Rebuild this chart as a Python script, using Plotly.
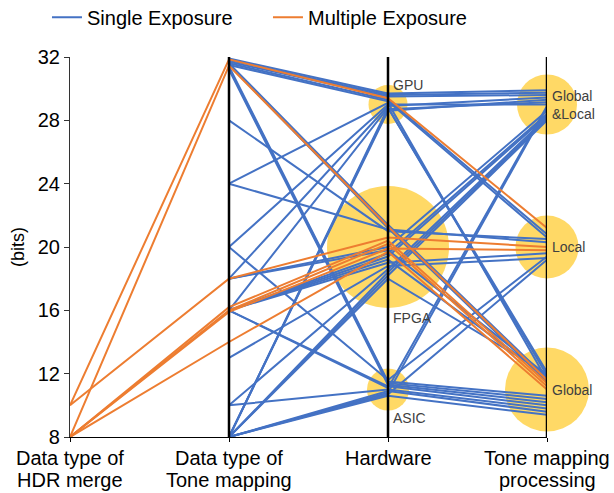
import plotly.graph_objects as go

# ---------------- data ----------------
axis_labels = ["Data type of<br>HDR merge", "Data type of<br>Tone mapping",
               "Hardware", "Tone mapping<br>processing"]
y_ticks = [8, 12, 16, 20, 24, 28, 32]

# hardware / processing categories (vertical position in bits-scale)
hw_names = ["GPU", "FPGA", "ASIC"]
hw_levels = [29, 20, 11]
proc_names = ["Global<br>&Local", "Local", "Global"]
proc_levels = [29, 20, 11]

# single exposure designs: tone-mapping data type, hardware pos, processing pos
single_tm = [31.9, 31.8, 31.7, 31.6, 31.5, 24.0, 18.0, 16.0, 8.0, 8.0, 8.0, 20.0,
             31.6, 31.5, 28.0, 24.0, 18.0, 18.0, 16.0, 16.0, 16.0, 16.0, 13.0, 10.0, 8.0, 8.0, 8.0,
             31.4, 31.3, 31.2, 20.0, 16.0, 16.0, 10.0, 8.0, 8.0, 8.0, 8.0]
single_hw = [29.7, 29.6, 29.5, 29.3, 29.2, 29.1, 28.9, 28.8, 28.6, 28.7, 28.8, 29.0,
             21.4, 21.2, 21.0, 21.1, 20.0, 19.8, 19.6, 19.4, 19.2, 19.0, 18.8, 18.6, 18.4, 18.2, 18.0,
             11.5, 11.4, 11.3, 11.6, 11.2, 11.1, 11.0, 10.9, 10.8, 10.7, 10.6]
single_proc = [29.9, 29.75, 29.6, 20.8, 20.6, 11.6, 29.45, 11.9, 29.3, 29.15, 12.1, 29.0,
               11.7, 11.5, 20.5, 20.3, 28.6, 11.9, 28.4, 28.3, 11.8, 19.6, 19.3, 28.2, 28.1, 28.0, 12.0,
               10.6, 10.4, 10.2, 19.4, 10.0, 28.9, 9.8, 9.6, 28.8, 19.2, 9.4]

# multiple exposure designs: HDR-merge data type, tone-mapping data type, hardware, processing
multi_hdr = [10, 8, 10, 8, 8, 8, 8]
multi_tm = [31.85, 31.45, 18.0, 16.2, 16.0, 15.9, 14.0]
multi_hw = [29.4, 21.3, 20.6, 20.4, 20.2, 19.9, 19.7]
multi_proc = [21.2, 11.6, 20.0, 11.4, 11.2, 19.8, 11.0]

# ---------------- styling ----------------
BLUE = "#4472C4"
ORANGE = "#ED7D31"
YELLOW = "#FFD966"
FONT = "Liberation Sans, Arial, sans-serif"

hw_sizes = [39, 122, 42]
proc_sizes = [60, 63, 84]

fig = go.Figure()

# bubbles
fig.add_trace(go.Scatter(x=[2] * len(hw_levels), y=hw_levels, mode="markers",
                         marker=dict(size=hw_sizes, color=YELLOW, opacity=1, line=dict(width=0)),
                         cliponaxis=False, showlegend=False, hoverinfo="skip"))
fig.add_trace(go.Scatter(x=[3] * len(proc_levels), y=proc_levels, mode="markers",
                         marker=dict(size=proc_sizes, color=YELLOW, opacity=1, line=dict(width=0)),
                         cliponaxis=False, showlegend=False, hoverinfo="skip"))

# single exposure lines
bx, by = [], []
for tm, hw, pr in zip(single_tm, single_hw, single_proc):
    bx += [1, 2, 3, None]
    by += [tm, hw, pr, None]
fig.add_trace(go.Scatter(x=bx, y=by, mode="lines", name="Single Exposure",
                         line=dict(color=BLUE, width=2), connectgaps=False))

# multiple exposure lines
ox, oy = [], []
for hd, tm, hw, pr in zip(multi_hdr, multi_tm, multi_hw, multi_proc):
    ox += [0, 1, 2, 3, None]
    oy += [hd, tm, hw, pr, None]
fig.add_trace(go.Scatter(x=ox, y=oy, mode="lines", name="Multiple Exposure",
                         line=dict(color=ORANGE, width=2), connectgaps=False))

# vertical axis lines
for xv in [1, 2, 3]:
    fig.add_shape(type="line", x0=xv, x1=xv, y0=8, y1=32, xref="x", yref="y",
                  line=dict(color="black", width=2.5), layer="above")

# category labels on bubbles
lab_color = "#404040"
fig.add_annotation(x=2, y=hw_levels[0], text=hw_names[0], xanchor="left", yanchor="middle",
                   xshift=3, yshift=20, showarrow=False, font=dict(size=14, color=lab_color, family=FONT))
fig.add_annotation(x=2, y=hw_levels[1], text=hw_names[1], xanchor="left", yanchor="middle",
                   xshift=3, yshift=-71, showarrow=False, font=dict(size=14, color=lab_color, family=FONT))
fig.add_annotation(x=2, y=hw_levels[2], text=hw_names[2], xanchor="left", yanchor="middle",
                   xshift=3, yshift=-28, showarrow=False, font=dict(size=14, color=lab_color, family=FONT))
for name, lev in zip(proc_names, proc_levels):
    fig.add_annotation(x=3, y=lev, text=name, xanchor="left", yanchor="middle", align="left",
                       xshift=3, showarrow=False, font=dict(size=14, color=lab_color, family=FONT))

# x-axis category labels (two lines, tight spacing)
for i, lab in enumerate(axis_labels):
    for j, part in enumerate(lab.split("<br>")):
        fig.add_annotation(x=i, xref="x", y=-0.055 - 0.058 * j, yref="paper", text=part,
                           xanchor="center", yanchor="middle", showarrow=False,
                           font=dict(size=20, color="black", family=FONT))

fig.update_layout(
    width=614, height=493,
    margin=dict(l=70, r=67, t=57, b=56),
    plot_bgcolor="white", paper_bgcolor="white",
    font=dict(family=FONT, size=20, color="black"),
    showlegend=True,
    legend=dict(orientation="h", xref="container", x=0.0765, xanchor="left",
                yref="container", y=0.965, yanchor="middle",
                font=dict(size=20), entrywidth=176, entrywidthmode="pixels",
                bgcolor="rgba(0,0,0,0)"),
    xaxis=dict(range=[0, 3], tickvals=[0, 1, 2, 3], showticklabels=False, automargin=False,
               showgrid=False, zeroline=False, showline=True, linecolor="black", linewidth=1.2,
               ticks="outside", ticklen=4, tickcolor="black"),
    yaxis=dict(range=[8, 32], tickvals=y_ticks, showgrid=False, zeroline=False, automargin=False,
               showline=True, linecolor="#333333", linewidth=1.2,
               ticks="outside", ticklen=5, tickcolor="#333333", tickfont=dict(size=20),
               title=dict(text="(bits)", font=dict(size=18), standoff=8)),
)

fig.write_html("out.html")
